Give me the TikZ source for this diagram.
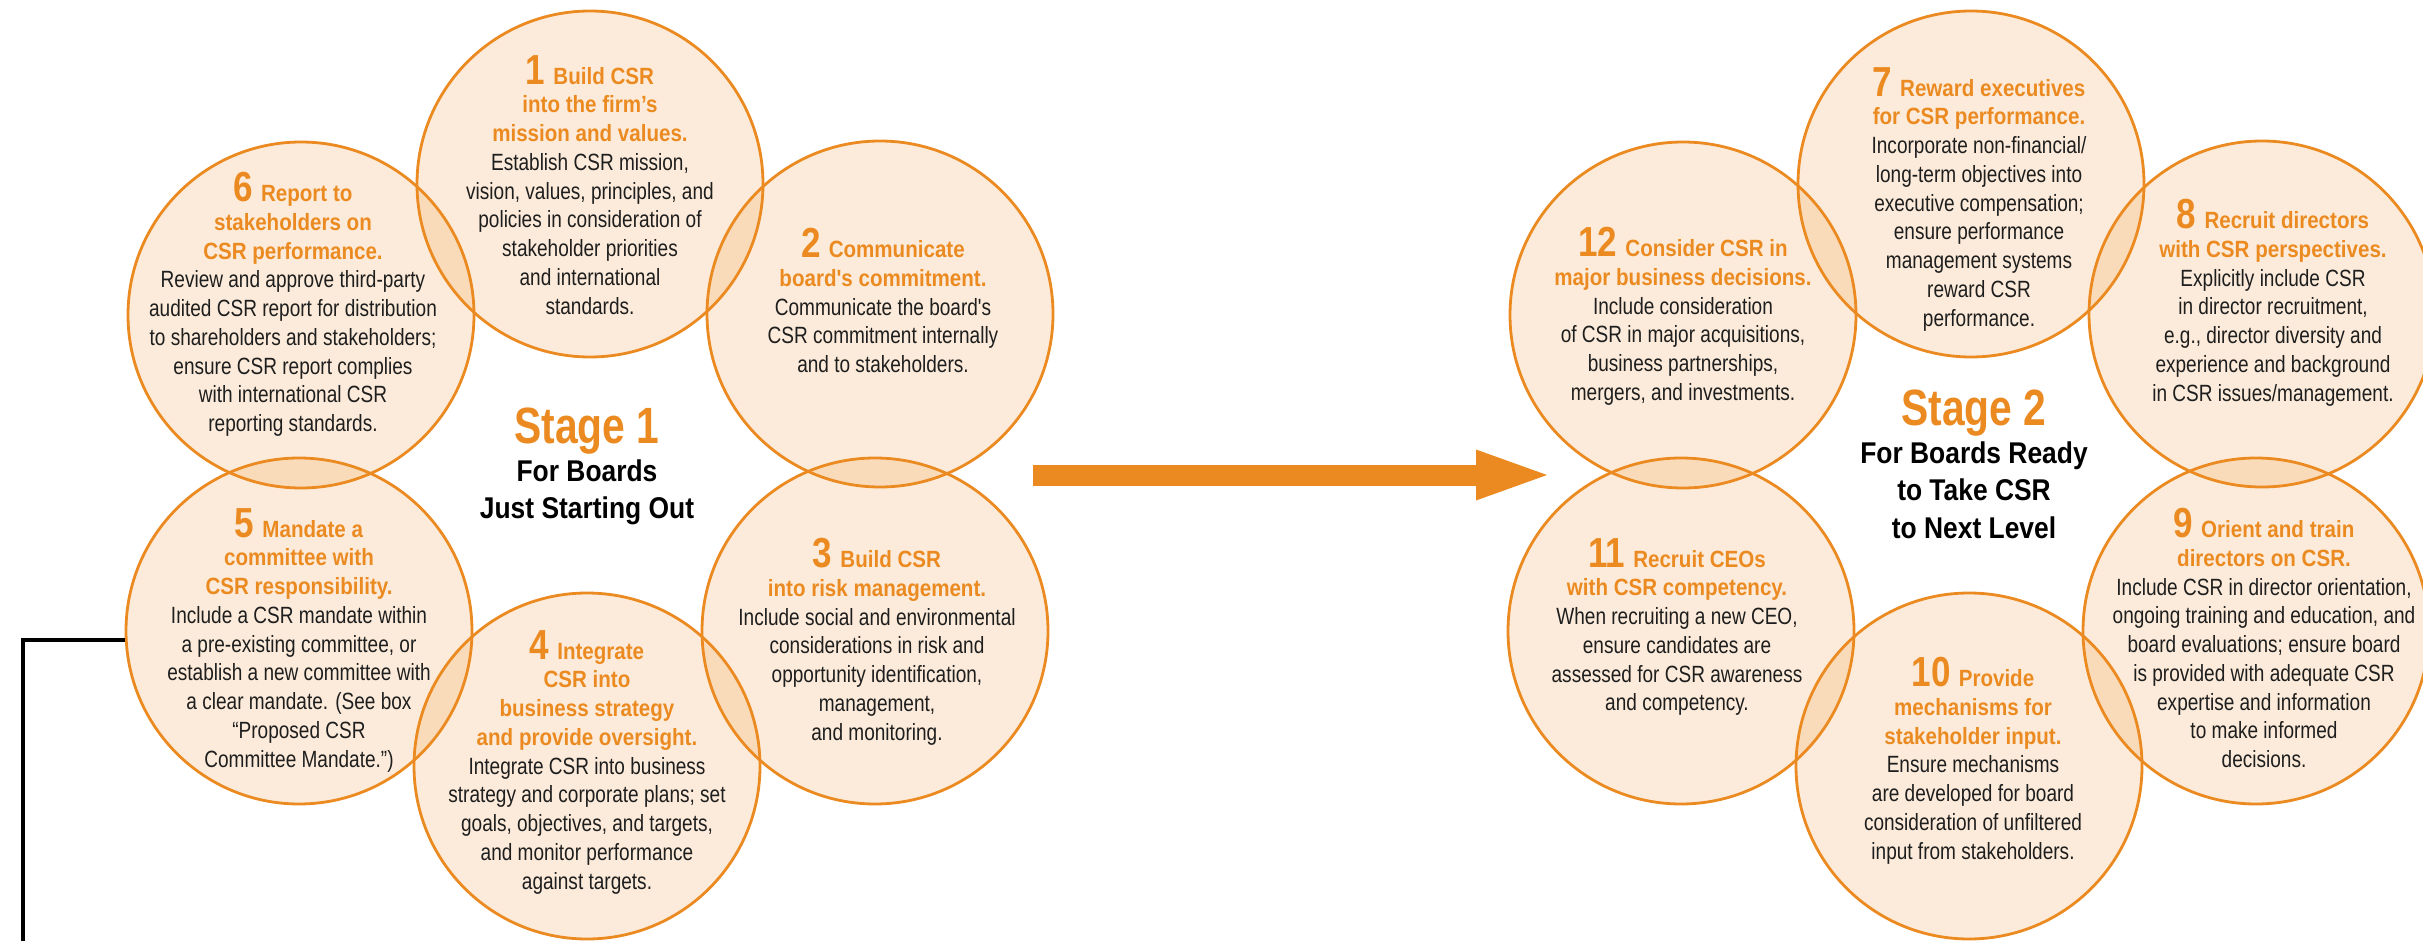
\documentclass[tikz,border=0pt]{standalone}
\usepackage{fontspec}
\setmainfont{Liberation Sans}
\newfontfamily\csrbodyf{Liberation Sans}[FakeStretch=0.81]
\newfontfamily\csrheadf{Liberation Sans}[FakeStretch=0.875]
\newfontfamily\csrnumf{Liberation Sans}[FakeStretch=0.835]
\newfontfamily\csrstagef{Liberation Sans}[FakeStretch=0.80]
\newfontfamily\csrsubf{Liberation Sans}[FakeStretch=0.88]
\usetikzlibrary{arrows.meta}
\definecolor{csrorange}{RGB}{235,138,33}
\definecolor{csrtext}{RGB}{30,30,30}
\newcommand\csrN[1]{{\csrnumf\bfseries\fontsize{42}{28.75}\selectfont\color{csrorange}#1}\hspace{8pt}}
\newcommand\csrH[1]{{\csrheadf\bfseries\color{csrorange}#1}}
\tikzset{
  csrcirc/.style={circle, draw=csrorange, line width=2.8pt, fill=csrorange, fill opacity=0.17, minimum size=346pt, inner sep=0pt},
  csrtxt/.style={anchor=north, align=center, inner sep=0pt, text=csrtext, font=\csrbodyf\fontsize{23.5}{28.75}\selectfont},
  stagetxt/.style={anchor=north, align=center, inner sep=0pt, text=black, font=\csrsubf\bfseries\fontsize{30}{37.5}\selectfont},
  bigarrow/.style={csrorange, line width=21pt, -{Triangle[length=71pt, width=51pt, line width=0pt]}},
  blackline/.style={black, line width=4.7pt}
}
\begin{document}
\begin{tikzpicture}[x=1pt, y=-1pt]
\useasboundingbox (0,0) rectangle (2423,941);
% Stage 1 circles
\node[csrcirc] (c1) at (590,184) {};
\node[csrcirc] (c2) at (880,314) {};
\node[csrcirc] (c3) at (875,631) {};
\node[csrcirc] (c4) at (587,766) {};
\node[csrcirc] (c5) at (299,631) {};
\node[csrcirc] (c6) at (301,315) {};
% Stage 2 circles
\node[csrcirc] (c7) at (1971,184) {};
\node[csrcirc] (c8) at (2262,314) {};
\node[csrcirc] (c9) at (2256,631) {};
\node[csrcirc] (c10) at (1969,766) {};
\node[csrcirc] (c11) at (1681,631) {};
\node[csrcirc] (c12) at (1683,315) {};
% connectors
\coordinate (blEnd) at (23,946);
\draw[blackline] (c5.183) -| (blEnd);
\coordinate (arrS) at (1033,475);
\coordinate (arrE) at (1547,475);
\draw[bigarrow] (arrS) -- (arrE);
% texts
\node[csrtxt] (t1) at (590,55) {\csrN{1}\csrH{Build CSR}\\ \csrH{into the firm’s}\\ \csrH{mission and values.}\\ Establish CSR mission,\\ vision, values, principles, and\\ policies in consideration of\\ stakeholder priorities\\ and international\\ standards.};
\node[csrtxt] (t2) at (883,228) {\csrN{2}\csrH{Communicate}\\ \csrH{board's commitment.}\\ Communicate the board's\\ CSR commitment internally\\ and to stakeholders.};
\node[csrtxt] (t3) at (877,538) {\csrN{3}\csrH{Build CSR}\\ \csrH{into risk management.}\\ Include social and environmental\\ considerations in risk and\\ opportunity identification,\\ management,\\ and monitoring.};
\node[csrtxt] (t4) at (587,630) {\csrN{4}\csrH{Integrate}\\ \csrH{CSR into}\\ \csrH{business strategy}\\ \csrH{and provide oversight.}\\ Integrate CSR into business\\ strategy and corporate plans; set\\ goals, objectives, and targets,\\ and monitor performance\\ against targets.};
\node[csrtxt] (t5) at (299,508) {\csrN{5}\csrH{Mandate a}\\ \csrH{committee with}\\ \csrH{CSR responsibility.}\\ Include a CSR mandate within\\ a pre-existing committee, or\\ establish a new committee with\\ a clear mandate. (See box\\ “Proposed CSR\\ Committee Mandate.”)};
\node[csrtxt] (t6) at (293,172) {\csrN{6}\csrH{Report to}\\ \csrH{stakeholders on}\\ \csrH{CSR performance.}\\ Review and approve third-party\\ audited CSR report for distribution\\ to shareholders and stakeholders;\\ ensure CSR report complies\\ with international CSR\\ reporting standards.};
\node[csrtxt] (t7) at (1979,67) {\csrN{7}\csrH{Reward executives}\\ \csrH{for CSR performance.}\\ Incorporate non-financial/\\ long-term objectives into\\ executive compensation;\\ ensure performance\\ management systems\\ reward CSR\\ performance.};
\node[csrtxt] (t8) at (2273,199) {\csrN{8}\csrH{Recruit directors}\\ \csrH{with CSR perspectives.}\\ Explicitly include CSR\\ in director recruitment,\\ e.g., director diversity and\\ experience and background\\ in CSR issues/management.};
\node[csrtxt] (t9) at (2264,508) {\csrN{9}\csrH{Orient and train}\\ \csrH{directors on CSR.}\\ Include CSR in director orientation,\\ ongoing training and education, and\\ board evaluations; ensure board\\ is provided with adequate CSR\\ expertise and information\\ to make informed\\ decisions.};
\node[csrtxt] (t10) at (1973,657) {\csrN{10}\csrH{Provide}\\ \csrH{mechanisms for}\\ \csrH{stakeholder input.}\\ Ensure mechanisms\\ are developed for board\\ consideration of unfiltered\\ input from stakeholders.};
\node[csrtxt] (t11) at (1677,538) {\csrN{11}\csrH{Recruit CEOs}\\ \csrH{with CSR competency.}\\ When recruiting a new CEO,\\ ensure candidates are\\ assessed for CSR awareness\\ and competency.};
\node[csrtxt] (t12) at (1683,227) {\csrN{12}\csrH{Consider CSR in}\\ \csrH{major business decisions.}\\ Include consideration\\ of CSR in major acquisitions,\\ business partnerships,\\ mergers, and investments.};
% stage labels
\node[stagetxt] (s1) at (587,408) {{\csrstagef\bfseries\fontsize{51}{37.5}\selectfont\color{csrorange}Stage 1}\\ For Boards\\ Just Starting Out};
\node[stagetxt] (s2) at (1974,390) {{\csrstagef\bfseries\fontsize{51}{37.5}\selectfont\color{csrorange}Stage 2}\\ For Boards Ready\\ to Take CSR\\ to Next Level};
\end{tikzpicture}
\end{document}
